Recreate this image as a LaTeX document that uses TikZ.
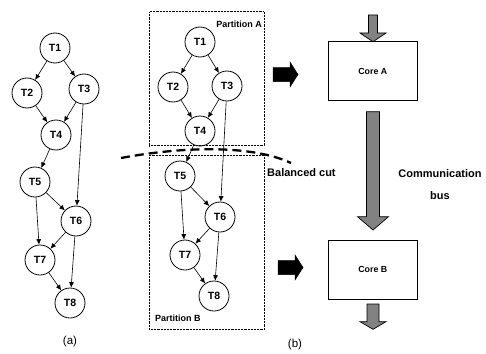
\documentclass[tikz,border=0pt]{standalone}
\usepackage{fontspec}
\setmainfont{Liberation Sans}
\usetikzlibrary{arrows.meta}
\definecolor{busgray}{RGB}{130,130,130}
\begin{document}
\begin{tikzpicture}[x=1pt,y=-1pt,
  task/.style={circle,draw,line width=0.8pt,minimum size=30pt,inner sep=0pt,
    font=\bfseries\fontsize{10.5}{12}\selectfont},
  dep/.style={-{Latex[length=5.5pt,width=5pt]},line width=0.6pt},
  partbox/.style={draw,densely dotted,line width=0.45pt,inner sep=0pt},
  corebox/.style={draw,line width=0.8pt,minimum width=89pt,minimum height=59pt,
    inner sep=0pt,font=\bfseries\fontsize{8.8}{11}\selectfont},
  lbl/.style={font=\bfseries\fontsize{9}{11}\selectfont,inner sep=0pt},
  biglbl/.style={font=\bfseries\fontsize{11}{13}\selectfont,inner sep=0pt},
  caplbl/.style={font=\fontsize{11.5}{13}\selectfont,inner sep=0pt},
  busarrow/.style={fill=busgray,draw,line width=0.7pt,line join=miter},
  blockarrow/.style={fill=black,draw,line width=0.5pt}]
\useasboundingbox (0,0) rectangle (486,353);

% ---------- (a) task graph ----------
\node[task] (a1) at (55,48) {T1};
\node[task] (a2) at (27,93) {T2};
\node[task] (a3) at (84,89) {T3};
\node[task] (a4) at (56,135) {T4};
\node[task] (a5) at (35,182) {T5};
\node[task] (a6) at (76,221) {T6};
\node[task] (a7) at (40,260) {T7};
\node[task] (a8) at (70,303) {T8};
\foreach \s/\t in {a1/a2,a1/a3,a2/a4,a3/a4,a4/a5,a3/a6,a5/a6,a5/a7,a6/a7,a6/a8,a7/a8}
  \draw[dep] (\s) -- (\t);
\node[caplbl] (capa) at (70,342) {(a)};

% ---------- (b) partitioned graph ----------
\node[partbox,minimum width=114.7pt,minimum height=134pt] (partA) at (206.65,78.7) {};
\node[partbox,minimum width=115pt,minimum height=174.3pt] (partB) at (206.8,242.15) {};
\node[lbl,anchor=east] (labA) at (262,24) {Partition A};
\node[lbl,anchor=west] (labB) at (155,318) {Partition B};

\node[task] (b1) at (200,42) {T1};
\node[task] (b2) at (173,87) {T2};
\node[task] (b3) at (227,86) {T3};
\node[task] (b4) at (200,131) {T4};
\node[task] (b5) at (180,176) {T5};
\node[task] (b6) at (220,217) {T6};
\node[task] (b7) at (185,255) {T7};
\node[task] (b8) at (214,296) {T8};
\foreach \s/\t in {b1/b2,b1/b3,b2/b4,b3/b4,b4/b5,b3/b6,b5/b6,b5/b7,b6/b7,b6/b8,b7/b8}
  \draw[dep] (\s) -- (\t);

% balanced cut between the two partitions
\coordinate (cutL) at (121,158);
\coordinate (cutR) at (291,163);
\draw[line width=2.3pt,dash pattern=on 9pt off 5pt]
  (cutL) .. controls (180,147) and (250,144) .. (cutR);
\node[biglbl,anchor=west] (cutlbl) at (267,173) {Balanced cut};
\node[caplbl] (capb) at (295,345) {(b)};

% ---------- cores and communication bus ----------
\node[corebox] (coreA) at (372.8,71.2) {Core A};
\node[corebox] (coreB) at (372.8,269.7) {Core B};
\node[biglbl,align=center] (buslbl) at (440,184.5)
  {Communication\\[9pt]bus};

% grey input / bus / output arrows
\path[busarrow] (368.5,15) -- (377.5,15) -- (377.5,33) -- (386,33) -- (373,41.7)
  -- (360,33) -- (368.5,33) -- cycle;
\path[busarrow] (366.5,111.7) -- (379.5,111.7) -- (379.5,216.7) -- (388.5,216.7)
  -- (373,230) -- (357.5,216.7) -- (366.5,216.7) -- cycle;
\path[busarrow] (367,304) -- (379,304) -- (379,321.7) -- (386,321.7) -- (373,329.3)
  -- (360,321.7) -- (367,321.7) -- cycle;

% black mapping arrows from partitions to cores
\path[blockarrow] (273,67.5) -- (290,67.5) -- (290,62) -- (298,74.5) -- (290,87)
  -- (290,81.5) -- (273,81.5) -- cycle;
\path[blockarrow] (278,260.5) -- (295,260.5) -- (295,255) -- (303,267.5) -- (295,280)
  -- (295,274.5) -- (278,274.5) -- cycle;
\end{tikzpicture}
\end{document}
